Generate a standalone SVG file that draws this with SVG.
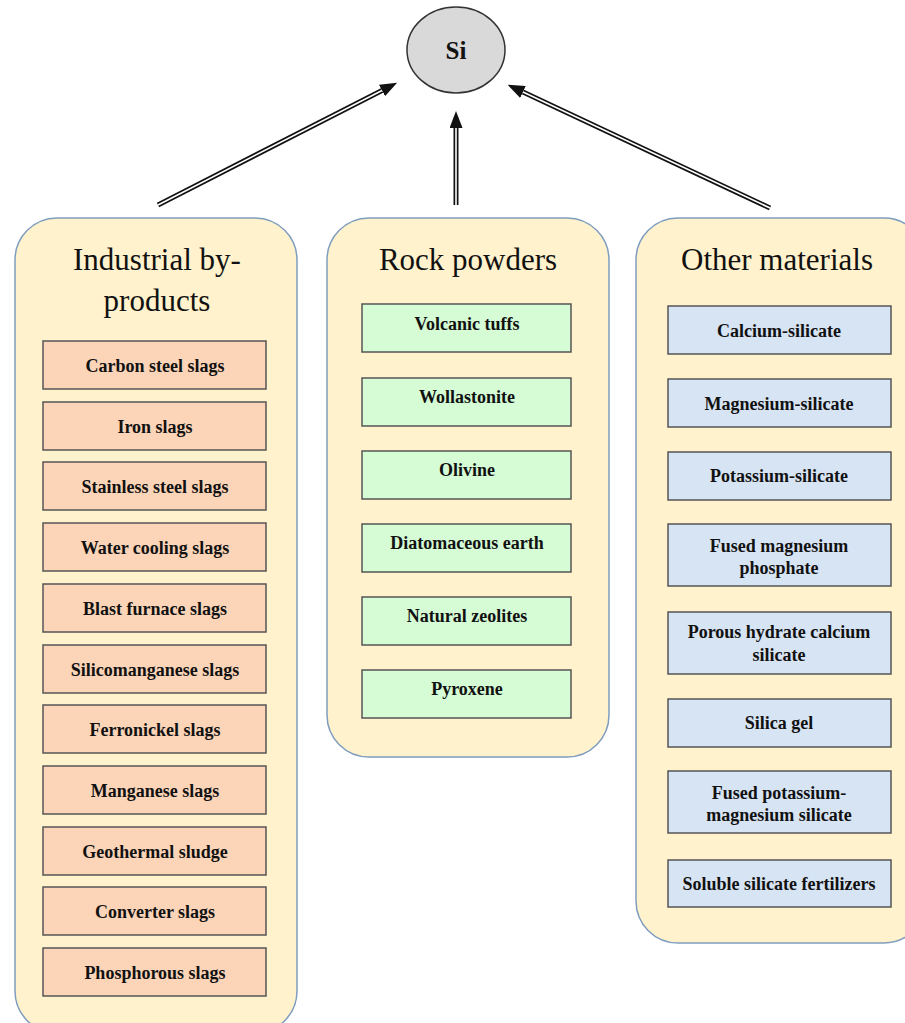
<svg xmlns="http://www.w3.org/2000/svg" width="905" height="1023" viewBox="0 0 905 1023">
<style>
.container{fill:#fff2cc;stroke:#7f9dbf;stroke-width:1.5}
.title{font-family:"Liberation Serif","Times New Roman",serif;font-size:31px;fill:#111;text-anchor:middle}
.item{font-family:"Liberation Serif","Times New Roman",serif;font-size:18px;font-weight:bold;fill:#111;text-anchor:middle}
.salmon{fill:#fcd5b8;stroke:#555;stroke-width:1.5}
.green{fill:#d5fcd5;stroke:#555;stroke-width:1.5}
.blue{fill:#d7e4f4;stroke:#555;stroke-width:1.5}
.outer{stroke:#111;stroke-width:5;fill:none;marker-end:url(#ah)}
.inner{stroke:#fff;stroke-width:1.6;fill:none}
</style>
<defs>
<marker id="ah" markerUnits="userSpaceOnUse" markerWidth="17" markerHeight="13" refX="0" refY="6.5" orient="auto">
<path d="M0,0 L17,6.5 L0,13 Z" fill="#111"/>
</marker>
</defs>
<rect width="905" height="1023" fill="#fff"/>
<g id="connectors">
<line class="outer" x1="158" y1="205" x2="382" y2="90.5"/>
<line class="inner" x1="158" y1="205" x2="382" y2="90.5"/>
<line class="outer" x1="456" y1="205" x2="456" y2="128"/>
<line class="inner" x1="456" y1="205" x2="456" y2="128"/>
<line class="outer" x1="770" y1="208" x2="523" y2="92"/>
<line class="inner" x1="770" y1="208" x2="523" y2="92"/>
</g>
<g id="si">
<ellipse cx="456" cy="50" rx="49" ry="43" fill="#d9d9d9" stroke="#333" stroke-width="1.5"/>
<text x="456" y="59" font-family="'Liberation Serif','Times New Roman',serif" font-size="25" font-weight="bold" text-anchor="middle" fill="#111">Si</text>
</g>
<g id="industrial">
<rect class="container" x="15" y="218" width="282" height="815" rx="42"/>
<text class="title" x="157" y="270">Industrial by-</text>
<text class="title" x="157" y="311">products</text>
<g id="i1"><rect class="salmon" x="43" y="341" width="223" height="48"/><text class="item" x="155" y="372">Carbon steel slags</text></g>
<g id="i2"><rect class="salmon" x="43" y="402" width="223" height="48"/><text class="item" x="155" y="433">Iron slags</text></g>
<g id="i3"><rect class="salmon" x="43" y="462" width="223" height="48"/><text class="item" x="155" y="493">Stainless steel slags</text></g>
<g id="i4"><rect class="salmon" x="43" y="523" width="223" height="48"/><text class="item" x="155" y="554">Water cooling slags</text></g>
<g id="i5"><rect class="salmon" x="43" y="584" width="223" height="48"/><text class="item" x="155" y="615">Blast furnace slags</text></g>
<g id="i6"><rect class="salmon" x="43" y="645" width="223" height="48"/><text class="item" x="155" y="676">Silicomanganese slags</text></g>
<g id="i7"><rect class="salmon" x="43" y="705" width="223" height="48"/><text class="item" x="155" y="736">Ferronickel slags</text></g>
<g id="i8"><rect class="salmon" x="43" y="766" width="223" height="48"/><text class="item" x="155" y="797">Manganese slags</text></g>
<g id="i9"><rect class="salmon" x="43" y="827" width="223" height="48"/><text class="item" x="155" y="858">Geothermal sludge</text></g>
<g id="i10"><rect class="salmon" x="43" y="887" width="223" height="48"/><text class="item" x="155" y="918">Converter slags</text></g>
<g id="i11"><rect class="salmon" x="43" y="948" width="223" height="48"/><text class="item" x="155" y="979">Phosphorous slags</text></g>
</g>
<g id="rock">
<rect class="container" x="327" y="218" width="282" height="539" rx="42"/>
<text class="title" x="468" y="270">Rock powders</text>
<g id="r1"><rect class="green" x="362" y="304" width="209" height="48"/><text class="item" x="467" y="330">Volcanic tuffs</text></g>
<g id="r2"><rect class="green" x="362" y="378" width="209" height="48"/><text class="item" x="467" y="403">Wollastonite</text></g>
<g id="r3"><rect class="green" x="362" y="451" width="209" height="48"/><text class="item" x="467" y="476">Olivine</text></g>
<g id="r4"><rect class="green" x="362" y="524" width="209" height="48"/><text class="item" x="467" y="549">Diatomaceous earth</text></g>
<g id="r5"><rect class="green" x="362" y="597" width="209" height="48"/><text class="item" x="467" y="622">Natural zeolites</text></g>
<g id="r6"><rect class="green" x="362" y="670" width="209" height="48"/><text class="item" x="467" y="695">Pyroxene</text></g>
</g>
<g id="other">
<rect class="container" x="636" y="218" width="290" height="725" rx="42"/>
<text class="title" x="777" y="270">Other materials</text>
<g id="o1"><rect class="blue" x="668" y="306" width="223" height="48"/><text class="item" x="779" y="337">Calcium-silicate</text></g>
<g id="o2"><rect class="blue" x="668" y="379" width="223" height="48"/><text class="item" x="779" y="410">Magnesium-silicate</text></g>
<g id="o3"><rect class="blue" x="668" y="452" width="223" height="48"/><text class="item" x="779" y="482">Potassium-silicate</text></g>
<g id="o4"><rect class="blue" x="668" y="524" width="223" height="62"/><text class="item" x="779" y="552">Fused magnesium</text><text class="item" x="779" y="574">phosphate</text></g>
<g id="o5"><rect class="blue" x="668" y="612" width="223" height="62"/><text class="item" x="779" y="638">Porous hydrate calcium</text><text class="item" x="779" y="661">silicate</text></g>
<g id="o6"><rect class="blue" x="668" y="699" width="223" height="48"/><text class="item" x="779" y="729">Silica gel</text></g>
<g id="o7"><rect class="blue" x="668" y="771" width="223" height="62"/><text class="item" x="779" y="799">Fused potassium-</text><text class="item" x="779" y="821">magnesium silicate</text></g>
<g id="o8"><rect class="blue" x="668" y="860" width="223" height="47"/><text class="item" x="779" y="890">Soluble silicate fertilizers</text></g>
</g>
</svg>
